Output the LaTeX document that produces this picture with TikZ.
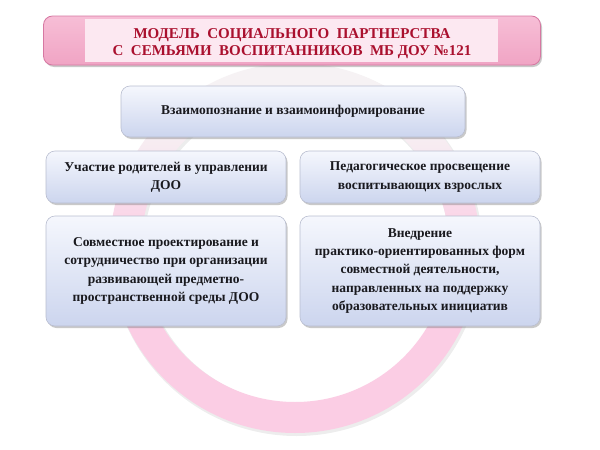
\documentclass[tikz,border=0pt]{standalone}
\usepackage{fontspec}
\setmainfont{Liberation Serif}
\usetikzlibrary{shadows}
\definecolor{ringpink}{RGB}{251,205,228}
\definecolor{ringpale}{RGB}{246,242,244}
\definecolor{titletop}{RGB}{247,190,214}
\definecolor{titlebot}{RGB}{240,164,196}
\definecolor{titleline}{RGB}{214,120,162}
\definecolor{titleband}{RGB}{252,232,241}
\definecolor{titletext}{RGB}{170,16,46}
\definecolor{boxtop}{RGB}{245,247,253}
\definecolor{boxbot}{RGB}{204,213,238}
\definecolor{boxline}{RGB}{185,190,208}
\definecolor{boxtext}{RGB}{25,25,30}
\pgfdeclareverticalshading{ringshade}{100bp}{color(0bp)=(ringpink); color(50bp)=(ringpink); color(67bp)=(ringpale); color(100bp)=(ringpale)}
\tikzset{
  bluebox/.style={draw=boxline, line width=0.6pt, rounded corners=9pt,
    top color=boxtop, bottom color=boxbot, align=center, text=boxtext,
    font=\fontsize{13.5}{18.3}\selectfont\bfseries, inner sep=0pt,
    drop shadow={shadow xshift=1.5pt, shadow yshift=-2pt, opacity=0.35, fill=black!60}},
  titlebox/.style={draw=titleline, line width=0.8pt, rounded corners=9pt,
    top color=titletop, bottom color=titlebot, inner sep=0pt,
    drop shadow={shadow xshift=1.5pt, shadow yshift=-2pt, opacity=0.35, fill=black!60}},
  titlefont/.style={font=\fontsize{15}{17}\selectfont\bfseries, text=titletext, align=center}
}
\begin{document}
\begin{tikzpicture}[x=1pt,y=-1pt]
\useasboundingbox (0,0) rectangle (600,450);
\fill[white] (0,0) rectangle (600,450);
% ring shadow and ring
\fill[even odd rule, black, opacity=0.07] (296.5,250) circle (186pt) (296.5,250) circle (153pt);
\shade[even odd rule, shading=ringshade]
  (295,248) circle (185pt) (295,248) circle (154pt);
% title
\node[titlebox, minimum width=497pt, minimum height=49pt] (title) at (292,40.5) {};
\fill[titleband] (85,19) rectangle (498,62);
\node[titlefont] (titletxt) at (292,44)
  {МОДЕЛЬ\ \ СОЦИАЛЬНОГО\ \ ПАРТНЕРСТВА\\ С\ \ СЕМЬЯМИ\ \ ВОСПИТАННИКОВ\ \ МБ ДОУ №121};
% boxes
\node[bluebox, minimum width=344pt, minimum height=51pt] (b1) at (293,111.5)
  {Взаимопознание и взаимоинформирование};
\node[bluebox, minimum width=240pt, minimum height=52pt] (b2) at (166,177)
  {Участие родителей в управлении\\ДОО};
\node[bluebox, minimum width=240pt, minimum height=52pt] (b3) at (420,177)
  {Педагогическое просвещение\\воспитывающих взрослых};
\node[bluebox, minimum width=240pt, minimum height=110pt] (b4) at (166,271)
  {Совместное проектирование и\\сотрудничество при организации\\развивающей предметно-\\пространственной среды ДОО};
\node[bluebox, minimum width=240pt, minimum height=110pt] (b5) at (420,271)
  {Внедрение\\практико-ориентированных форм\\совместной деятельности,\\направленных на поддержку\\образовательных инициатив};
\end{tikzpicture}
\end{document}
